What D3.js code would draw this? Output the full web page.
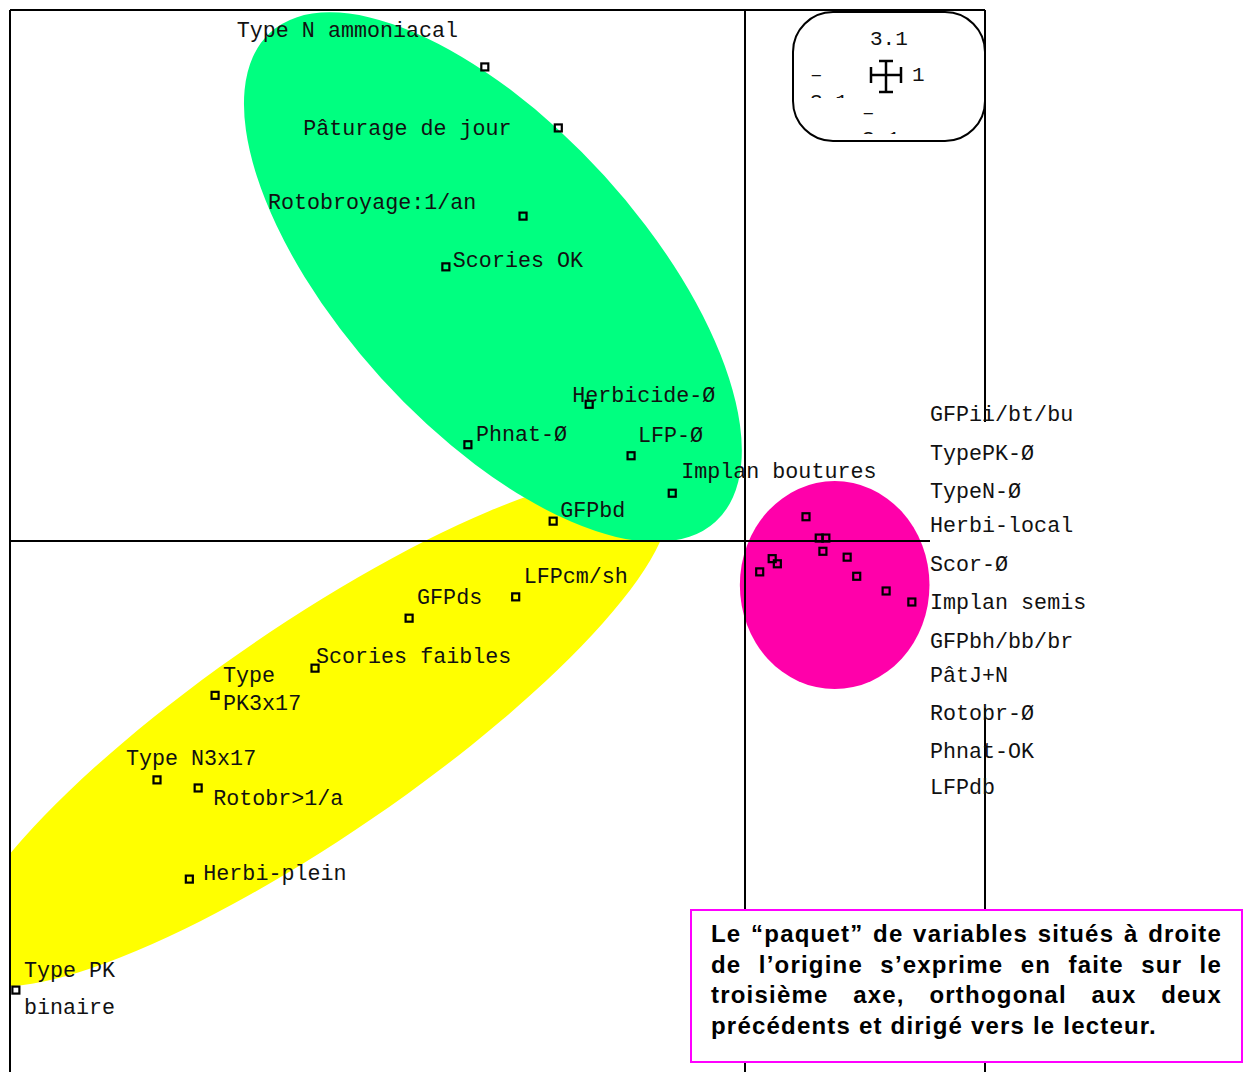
<!DOCTYPE html>
<html>
<head>
<meta charset="utf-8">
<script src="https://cdn.jsdelivr.net/npm/d3@7"></script>
<style>
  body { margin: 0; background: #fff; }
  .mono text { font-family: "Liberation Mono", "DejaVu Sans Mono", monospace; }
  .note text { font-family: "Liberation Sans", Arial, sans-serif; font-weight: bold; letter-spacing: 1.2px; }
</style>
</head>
<body>
<div id="chart"></div>
<script>
// Factor coordinates (axis 1 horizontal, axis 2 vertical)
var greenVars = ["Type N ammoniacal", "Pâturage de jour", "Rotobroyage:1/an", "Scories OK",
  "Herbicide-Ø", "Phnat-Ø", "LFP-Ø", "Implan boutures", "GFPbd"];
var greenX = [-0.354, -0.254, -0.302, -0.407, -0.212, -0.377, -0.155, -0.099, -0.261];
var greenY = [0.645, 0.562, 0.442, 0.373, 0.186, 0.131, 0.116, 0.065, 0.027];

var yellowVars = ["LFPcm/sh", "GFPds", "Scories faibles", "Type\nPK3x17", "Type N3x17",
  "Rotobr>1/a", "Herbi-plein", "Type PK\nbinaire"];
var yellowX = [-0.312, -0.457, -0.585, -0.721, -0.800, -0.744, -0.756, -0.992];
var yellowY = [-0.076, -0.105, -0.173, -0.210, -0.325, -0.336, -0.460, -0.611];

// right-hand "paquet" (no individual labels on the plot)
var pinkX = [0.083, 0.101, 0.110, 0.106, 0.037, 0.044, 0.020, 0.139, 0.152, 0.192, 0.227];
var pinkY = [0.033, 0.004, 0.004, -0.014, -0.024, -0.031, -0.042, -0.022, -0.048, -0.068, -0.083];
var pinkVars = ["GFPii/bt/bu", "TypePK-Ø", "TypeN-Ø", "Herbi-local", "Scor-Ø", "Implan semis",
  "GFPbh/bb/br", "PâtJ+N", "Rotobr-Ø", "Phnat-OK", "LFPdb"];

var noteLines = [
  "Le “paquet” de variables situés à droite",
  "de l’origine s’exprime en faite sur le",
  "troisième axe, orthogonal aux deux",
  "précédents et dirigé vers le lecteur."
];

// Layout
var svgWidth = 1243;
var svgHeight = 1072;
var frame = { left: 10, top: 10, right: 985 };
var origin = { x: 745, y: 541 };
var unit = 735;   // pixels per factor unit

// label offsets from their marker (px): [dx, dy, line height]
var greenOffsets = [[-248, -30], [-255, 7], [-255, -7], [7, 0], [-17, -2], [8, -4], [7, -14], [9, -15], [7, -4]];
var yellowOffsets = [[8, -14], [8, -14], [1, -5], [8, -13, 28], [-31, -15], [15, 17], [14, 1], [8, -13, 37]];

var svg = d3.select("#chart")
  .append("svg")
  .attr("width", svgWidth)
  .attr("height", svgHeight);

var xScale = d3.scaleLinear().domain([-1, 0]).range([origin.x - unit, origin.x]);
var yScale = d3.scaleLinear().domain([0, 1]).range([origin.y, origin.y - unit]);

// clip everything to the frame (left and top edges)
svg.append("clipPath").attr("id", "frameClip")
  .append("rect")
  .attr("x", frame.left).attr("y", frame.top)
  .attr("width", svgWidth - frame.left).attr("height", svgHeight - frame.top);

// Grouping ellipses, in factor units: centre, semi-axes, rotation (deg)
var groups = [
  { cx: -0.588, cy: -0.2585, rx: 0.578, ry: 0.144, angle: -34.4, color: "#ffff00" },
  { cx: -0.343, cy: 0.359, rx: 0.450, ry: 0.205, angle: 47.7, color: "#00ff80" },
  { cx: 0.122, cy: -0.060, rx: 0.129, ry: 0.1415, angle: 0, color: "#ff00aa" }
];

svg.append("g")
  .attr("clip-path", "url(#frameClip)")
  .selectAll("ellipse")
  .data(groups)
  .enter()
  .append("ellipse")
  .attr("cx", d => xScale(d.cx))
  .attr("cy", d => yScale(d.cy))
  .attr("rx", d => xScale(d.rx) - xScale(0))
  .attr("ry", d => xScale(d.ry) - xScale(0))
  .attr("transform", d => "rotate(" + d.angle + "," + xScale(d.cx) + "," + yScale(d.cy) + ")")
  .attr("fill", d => d.color);

// Frame and axes
var lines = svg.append("g").attr("stroke", "#000").attr("stroke-width", 2);
lines.append("line").attr("x1", frame.left).attr("x2", frame.right).attr("y1", frame.top).attr("y2", frame.top);
lines.append("line").attr("x1", frame.left).attr("x2", frame.left).attr("y1", frame.top).attr("y2", svgHeight);
lines.append("line").attr("x1", frame.right).attr("x2", frame.right).attr("y1", frame.top).attr("y2", 422);
lines.append("line").attr("x1", frame.right).attr("x2", frame.right).attr("y1", 708).attr("y2", svgHeight);
lines.append("line").attr("x1", xScale(0)).attr("x2", xScale(0)).attr("y1", frame.top).attr("y2", svgHeight);
lines.append("line").attr("x1", frame.left).attr("x2", 930).attr("y1", yScale(0)).attr("y2", yScale(0));

// Markers
var points = [];
greenVars.forEach((v, i) => points.push({ name: v, x: greenX[i], y: greenY[i], off: greenOffsets[i] }));
yellowVars.forEach((v, i) => points.push({ name: v, x: yellowX[i], y: yellowY[i], off: yellowOffsets[i] }));
pinkX.forEach((v, i) => points.push({ name: null, x: v, y: pinkY[i] }));

var markerSize = 7;
svg.append("g").selectAll("rect")
  .data(points)
  .enter()
  .append("rect")
  .attr("x", d => xScale(d.x) - markerSize / 2)
  .attr("y", d => yScale(d.y) - markerSize / 2)
  .attr("width", markerSize)
  .attr("height", markerSize)
  .attr("fill", "none")
  .attr("stroke", "#000")
  .attr("stroke-width", 2.2);

// Marker labels
var labelGroup = svg.append("g").classed("mono", true).attr("font-size", 21.7).attr("fill", "#111");
points.filter(d => d.name).forEach(function(d) {
  var parts = d.name.split("\n");
  var t = labelGroup.append("text")
    .attr("x", xScale(d.x) + d.off[0])
    .attr("y", yScale(d.y) + d.off[1]);
  parts.forEach(function(p, j) {
    t.append("tspan")
      .attr("x", xScale(d.x) + d.off[0])
      .attr("dy", j === 0 ? 0 : d.off[2])
      .text(p);
  });
});

// Right-hand list of the variables in the "paquet"
var listTops = [421, 460, 498, 532, 571, 609, 648, 682, 720, 758, 794];
labelGroup.selectAll(".pinkLabel")
  .data(pinkVars)
  .enter()
  .append("text")
  .classed("pinkLabel", true)
  .attr("x", 930)
  .attr("y", (d, i) => listTops[i])
  .text(d => d);

// Scale legend (rounded box with cross)
var legend = svg.append("g").classed("mono", true);
legend.append("rect")
  .attr("x", 793).attr("y", 12).attr("width", 192).attr("height", 129).attr("rx", 40)
  .attr("fill", "#fff").attr("stroke", "#000").attr("stroke-width", 2);
var legText = legend.append("g").attr("font-size", 21).attr("fill", "#111");
legText.append("text").attr("x", 870).attr("y", 45).text("3.1");
legText.append("text").attr("x", 912).attr("y", 81).text("1");
legend.append("clipPath").attr("id", "legClipA")
  .append("rect").attr("x", 800).attr("y", 60).attr("width", 60).attr("height", 38);
legend.append("clipPath").attr("id", "legClipB")
  .append("rect").attr("x", 850).attr("y", 100).attr("width", 60).attr("height", 34);
var la = legText.append("text").attr("clip-path", "url(#legClipA)");
la.append("tspan").attr("x", 810).attr("y", 81).text("–");
la.append("tspan").attr("x", 810).attr("y", 108).text("3.1");
var lb = legText.append("text").attr("clip-path", "url(#legClipB)");
lb.append("tspan").attr("x", 862).attr("y", 119).text("–");
lb.append("tspan").attr("x", 862).attr("y", 145).text("3.1");
var cross = legend.append("g").attr("stroke", "#000").attr("stroke-width", 2.5);
cross.append("line").attr("x1", 871).attr("x2", 901).attr("y1", 75).attr("y2", 75);
cross.append("line").attr("x1", 871).attr("x2", 871).attr("y1", 67).attr("y2", 83);
cross.append("line").attr("x1", 901).attr("x2", 901).attr("y1", 67).attr("y2", 83);
cross.append("line").attr("x1", 886).attr("x2", 886).attr("y1", 61).attr("y2", 92);
cross.append("line").attr("x1", 879).attr("x2", 893).attr("y1", 61).attr("y2", 61);
cross.append("line").attr("x1", 879).attr("x2", 893).attr("y1", 92).attr("y2", 92);

// Note box, justified text
var note = svg.append("g").classed("note", true);
note.append("rect")
  .attr("x", 691).attr("y", 910).attr("width", 551).attr("height", 152)
  .attr("fill", "#fff").attr("stroke", "#ff00ff").attr("stroke-width", 2);
var noteX = 711, noteW = 511, noteTop = 942, noteLead = 30.7;
noteLines.forEach(function(line, i) {
  var t = note.append("text")
    .attr("y", noteTop + i * noteLead)
    .attr("font-size", 24)
    .attr("fill", "#000");
  if (i === noteLines.length - 1) {
    t.attr("x", noteX).text(line);
    return;
  }
  var words = line.split(" ");
  var spans = words.map(w => t.append("tspan").text(w));
  var widths = spans.map(s => s.node().getComputedTextLength());
  var gap = (noteW - d3.sum(widths)) / (words.length - 1);
  var x = noteX;
  spans.forEach(function(s, j) {
    s.attr("x", x);
    x += widths[j] + gap;
  });
});
</script>
</body>
</html>
